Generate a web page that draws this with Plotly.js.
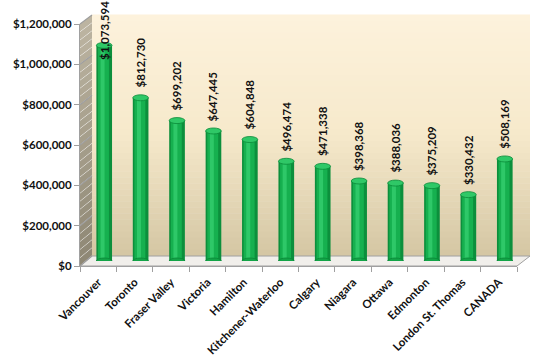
<!DOCTYPE html>
<html><head><meta charset="utf-8">
<script src="https://cdn.plot.ly/plotly-3.0.1.min.js"></script>
<style>html,body{margin:0;padding:0;background:#fff}#chart{width:550px;height:361px}</style>
</head><body><div id="chart"></div>
<script>
// ---- data ----
const categories = ['Vancouver','Toronto','Fraser Valley','Victoria','Hamilton','Kitchener-Waterloo','Calgary','Niagara','Ottawa','Edmonton','London St. Thomas','CANADA'];
const prices = [1073594, 812730, 699202, 647445, 604848, 496474, 471338, 398368, 388036, 375209, 330432, 508169];
const priceLabels = ['$1,073,594','$812,730','$699,202','$647,445','$604,848','$496,474','$471,338','$398,368','$388,036','$375,209','$330,432','$508,169'];
const yTickVals = [0, 200000, 400000, 600000, 800000, 1000000, 1200000];
const yTickText = ['$0','$200,000','$400,000','$600,000','$800,000','$1,000,000','$1,200,000'];
const yMax = 1200000;

// ---- geometry (pixels) ----
const W = 550, H = 361, ML = 80, MR = 20, MT = 15, MB = 95;
const IW = W - ML - MR, IH = H - MT - MB;
const FRONT = {x0: 80, x1: 517, y0: 266, y1: 24};
const BACK  = {x0: 92, x1: 530, y0: 256, y1: 15};
const MID   = {x0: 86, x1: 523, y0: 261, y1: 20};
const px = p => (p - ML) / IW;
const py = p => (H - MB - p) / IH;
const dom = g => ({x: [px(g.x0), px(g.x1)], y: [py(g.y0), py(g.y1)]});

function lerpColor(a, b, t) {
  const pa = [1,3,5].map(i => parseInt(a.substr(i,2),16));
  const pb = [1,3,5].map(i => parseInt(b.substr(i,2),16));
  return 'rgb(' + pa.map((v,i) => Math.round(v + (pb[i]-v)*t)).join(',') + ')';
}

const shapes = [];
// back wall gradient
const NB = 40;
for (let k = 0; k < NB; k++) {
  const ya = BACK.y1 + (BACK.y0 - BACK.y1) * k / NB;
  const yb = BACK.y1 + (BACK.y0 - BACK.y1) * (k + 1) / NB;
  const t = (k + 0.5) / NB;
  const c = t < 0.5 ? lerpColor('#FDF2DC', '#F6E9CB', t / 0.5) : lerpColor('#F6E9CB', '#D4C6A3', (t - 0.5) / 0.5);
  shapes.push({type: 'rect', xref: 'paper', yref: 'paper', layer: 'below',
    x0: px(BACK.x0), x1: px(BACK.x1), y0: py(yb), y1: py(ya) + 0.002, fillcolor: c, line: {width: 0}});
}
// left wall gradient
const NL = 30;
for (let k = 0; k < NL; k++) {
  const ta = k / NL, tb = (k + 1) / NL;
  const fa = FRONT.y1 + (FRONT.y0 - FRONT.y1) * ta, fb = FRONT.y1 + (FRONT.y0 - FRONT.y1) * tb;
  const ba = BACK.y1 + (BACK.y0 - BACK.y1) * ta, bb = BACK.y1 + (BACK.y0 - BACK.y1) * tb;
  const c = lerpColor('#BDB5A2', '#8E8774', (ta + tb) / 2);
  const path = `M${px(FRONT.x0)},${py(fa)} L${px(BACK.x0)},${py(ba)} L${px(BACK.x0)},${py(bb)+0.002} L${px(FRONT.x0)},${py(fb)+0.002} Z`;
  shapes.push({type: 'path', xref: 'paper', yref: 'paper', layer: 'below', path, fillcolor: c, line: {width: 0}});
}
// floor
shapes.push({type: 'path', xref: 'paper', yref: 'paper', layer: 'below',
  path: `M${px(FRONT.x0)},${py(FRONT.y0)} L${px(FRONT.x1)},${py(FRONT.y0)} L${px(BACK.x1)},${py(BACK.y0)} L${px(BACK.x0)},${py(BACK.y0)} Z`,
  fillcolor: '#F1EFEB', line: {color: '#A0A0A0', width: 1}});
// left wall gridlines (diagonal)
yTickVals.forEach(v => {
  const fy = FRONT.y0 - (FRONT.y0 - FRONT.y1) * v / yMax;
  const by = BACK.y0 - (BACK.y0 - BACK.y1) * v / yMax;
  shapes.push({type: 'line', xref: 'paper', yref: 'paper', layer: 'below',
    x0: px(FRONT.x0), y0: py(fy), x1: px(BACK.x0), y1: py(by), line: {color: '#9E9E9E', width: 1.2}});
});
// cylinder caps (bottom and top ellipses)
prices.forEach((v, i) => {
  shapes.push({type: 'circle', xref: 'x3', yref: 'y3', layer: 'above',
    x0: i - 0.215, x1: i + 0.215, ysizemode: 'pixel', yanchor: 0, y0: -3, y1: 3,
    fillcolor: '#12A447', line: {color: '#0A8536', width: 0.8}});
  shapes.push({type: 'circle', xref: 'x3', yref: 'y3', layer: 'above',
    x0: i - 0.215, x1: i + 0.215, ysizemode: 'pixel', yanchor: v, y0: -3, y1: 3,
    fillcolor: '#2FC867', line: {color: '#0A8A38', width: 0.8}});
});

// data labels
const LABEL_CAP = 950000;
const annotations = prices.map((v, i) => ({
  xref: 'x3', yref: 'y3', x: categories[i], y: Math.min(v, LABEL_CAP),
  text: priceLabels[i], textangle: -90, showarrow: false,
  yanchor: 'bottom', xanchor: 'center', yshift: 8,
  font: {family: 'Lato, sans-serif', size: 11.5, color: '#111', weight: 'bold'}
}));

const font = {family: 'Lato, sans-serif', size: 11.5, color: '#111', weight: 'bold'};

const traces = [
  // front axis carrier (invisible)
  {type: 'scatter', mode: 'markers', x: categories, y: prices, xaxis: 'x', yaxis: 'y',
   marker: {opacity: 0}, hoverinfo: 'skip', showlegend: false},
  // cylinder bodies (middle plane)
  {type: 'bar', x: categories, y: prices, xaxis: 'x3', yaxis: 'y3', width: 0.43,
   marker: {color: '#0C8F3C', line: {width: 0}}, hoverinfo: 'skip', showlegend: false},
  {type: 'bar', x: categories, y: prices, xaxis: 'x3', yaxis: 'y3', width: 0.3, offset: -0.17,
   marker: {color: '#16B04F', line: {width: 0}}, hoverinfo: 'skip', showlegend: false},
  {type: 'bar', x: categories, y: prices, xaxis: 'x3', yaxis: 'y3', width: 0.11, offset: -0.1,
   marker: {color: '#2EC868', line: {width: 0}}, hoverinfo: 'skip', showlegend: false}
];

const dF = dom(FRONT), dB = dom(BACK), dM = dom(MID);
const layout = {
  width: W, height: H,
  margin: {l: ML, r: MR, t: MT, b: MB, pad: 0},
  paper_bgcolor: '#ffffff', plot_bgcolor: 'rgba(0,0,0,0)',
  showlegend: false, barmode: 'overlay',
  font: {family: 'Lato, sans-serif', color: '#111'},
  xaxis: {domain: dF.x, anchor: 'y', type: 'category', categoryarray: categories, range: [-0.5, 11.5],
    showline: true, linecolor: '#A0A0A0', linewidth: 1, ticks: 'outside', tickson: 'boundaries',
    ticklen: 5, tickcolor: '#A0A0A0', tickangle: -45, tickfont: font, ticklabelstandoff: 4,
    showgrid: false, zeroline: false, fixedrange: true},
  yaxis: {domain: dF.y, anchor: 'x', range: [0, yMax], tickvals: yTickVals, ticktext: yTickText,
    showline: true, linecolor: '#A0A0A0', linewidth: 1, ticks: 'outside', ticklen: 5, tickcolor: '#A0A0A0',
    tickfont: font, showgrid: false, zeroline: false, fixedrange: true},
  xaxis2: {domain: dB.x, anchor: 'y2', range: [0, 1], visible: false, fixedrange: true},
  yaxis2: {domain: dB.y, anchor: 'x2', range: [0, yMax], tickvals: yTickVals, showticklabels: false,
    showgrid: true, gridcolor: '#A3A3A3', gridwidth: 1.2, zeroline: false, showline: false, ticks: '', fixedrange: true},
  xaxis3: {domain: dM.x, anchor: 'y3', type: 'category', categoryarray: categories, range: [-0.5, 11.5], visible: false, fixedrange: true},
  yaxis3: {domain: dM.y, anchor: 'x3', range: [0, yMax], visible: false, fixedrange: true},
  shapes, annotations
};

Plotly.newPlot('chart', traces, layout, {staticPlot: true, displayModeBar: false});
</script>
</body></html>
